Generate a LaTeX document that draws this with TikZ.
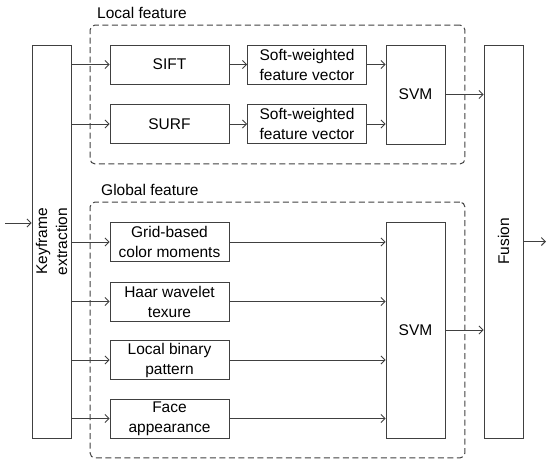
\documentclass[tikz,border=0pt]{standalone}
\usepackage{fontspec}
\setmainfont{Liberation Sans}
\usetikzlibrary{positioning, fit, calc, arrows.meta}

\tikzset{
  blk/.style={draw=black!75, line width=0.9pt, minimum width=119pt, minimum height=39pt, align=center, inner sep=1pt, font=\fontsize{15.5}{20}\selectfont},
  tall/.style={blk, rotate=90, minimum width=393pt},
  grp/.style={draw=black!75, line width=1pt, dash pattern=on 6pt off 3.5pt, rounded corners=5pt, inner sep=19.5pt},
  arr/.style={draw=black!75, line width=0.9pt, -{Straight Barb[length=4pt,width=8pt]}},
  lab/.style={font=\fontsize{15.5}{20}\selectfont, inner sep=0pt, anchor=west}
}

\begin{document}
\begin{tikzpicture}[x=1pt, y=-1pt]
    \useasboundingbox (0,0) rectangle (547,459);
    % main blocks
    \node[tall, minimum height=39pt] (key) at (51.5,241.5) {Keyframe\\extraction};
    \node[tall, minimum height=39pt] (fus) at (503.5,241.5) {Fusion};

    % local feature
    \node[blk] (sift) at (169.5,64.5) {SIFT};
    \node[blk] (surf) at (169.5,124) {SURF};
    \node[blk] (sw1) at (307,64.5) {Soft-weighted\\feature vector};
    \node[blk] (sw2) at (307,124) {Soft-weighted\\feature vector};
    \node[blk, minimum width=59pt, minimum height=99pt] (lsvm) at (415.5,94.5) {SVM};
    \node[grp, fit=(sift)(lsvm)] (loc) {};
    \node[lab] (loclab) at (97,13) {Local feature};

    % global feature
    \node[blk] (grid) at (169.5,242) {Grid-based\\color moments};
    \node[blk] (haar) at (169.5,301.5) {Haar wavelet\\texure};
    \node[blk] (lbp) at (169.5,360) {Local binary\\pattern};
    \node[blk] (face) at (169.5,418.5) {Face\\appearance};
    \node[blk, minimum width=59pt, minimum height=216pt] (gsvm) at (415.5,330) {SVM};
    \node[grp, fit=(grid)(gsvm)(face)] (glob) {};
    \node[lab] (globlab) at (101,190) {Global feature};

    % connectors
    \coordinate (in) at (5,223);
    \coordinate (out) at (546,241.5);
    \draw[arr] (in) -- (in -| key.north);
    \foreach \b in {sift, surf, grid, haar, lbp, face}
        \draw[arr] (key.south |- \b) -- (\b);
    \draw[arr] (sift) -- (sw1);
    \draw[arr] (surf) -- (sw2);
    \draw[arr] (sw1) -- (lsvm.west |- sw1);
    \draw[arr] (sw2) -- (lsvm.west |- sw2);
    \foreach \b in {grid, haar, lbp, face}
        \draw[arr] (\b) -- (gsvm.west |- \b);
    \draw[arr] (lsvm) -- (fus.north |- lsvm);
    \draw[arr] (gsvm) -- (fus.north |- gsvm);
    \draw[arr] (fus.south) -- (out);
\end{tikzpicture}
\end{document}
